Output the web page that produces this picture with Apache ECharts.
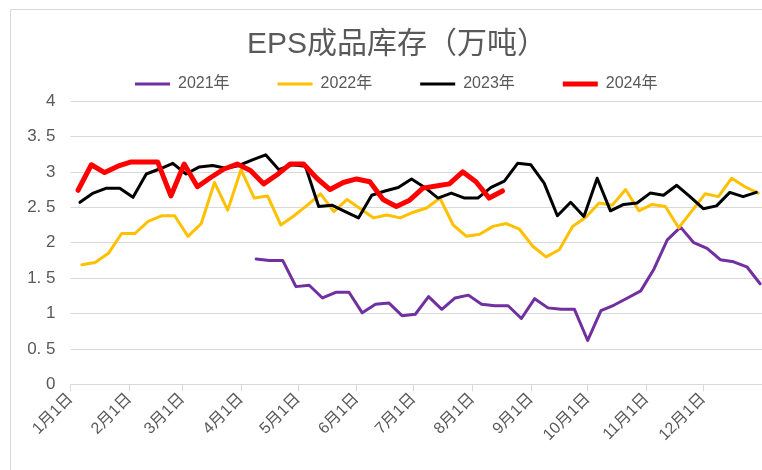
<!DOCTYPE html>
<html>
<head>
<meta charset="utf-8">
<script src="https://cdn.jsdelivr.net/npm/echarts@6/dist/echarts.min.js"></script>
<style>
  html, body { margin: 0; padding: 0; background: #ffffff; }
  #chart { width: 762px; height: 470px; }
</style>
</head>
<body>
<div id="chart"></div>
<script>
// Weekly EPS finished-goods inventory (10k tonnes), one line per year.
// Each year is placed on a shared Jan–Dec day axis; the first reading of
// a year falls on its first Friday and readings follow weekly after that.
const seriesNames = ['2021年', '2022年', '2023年', '2024年'];
const firstDay2021 = 98;  // 4月9日
const firstDay2022 = 6;   // 1月7日
const firstDay2023 = 5;   // 1月6日
const firstDay2024 = 4;   // 1月5日
const daysPerStep = 7;

const values2021 = [1.77, 1.75, 1.75, 1.38, 1.40, 1.22, 1.30, 1.30, 1.01, 1.13,
  1.15, 0.97, 0.99, 1.24, 1.06, 1.22, 1.26, 1.13, 1.11, 1.11,
  0.93, 1.21, 1.08, 1.06, 1.06, 0.62, 1.04, 1.12, 1.22, 1.32,
  1.63, 2.04, 2.22, 2.00, 1.92, 1.76, 1.73, 1.66, 1.42];
const values2022 = [1.69, 1.72, 1.85, 2.13, 2.13, 2.30, 2.38, 2.38, 2.09, 2.27,
  2.85, 2.46, 3.03, 2.63, 2.66, 2.25, 2.38, 2.53, 2.69, 2.44,
  2.61, 2.48, 2.35, 2.39, 2.35, 2.43, 2.49, 2.63, 2.25, 2.09,
  2.12, 2.23, 2.27, 2.19, 1.95, 1.80, 1.90, 2.23, 2.36, 2.56,
  2.53, 2.75, 2.45, 2.54, 2.51, 2.21, 2.45, 2.69, 2.65, 2.91,
  2.79, 2.70];
const values2023 = [2.57, 2.70, 2.77, 2.77, 2.64, 2.97, 3.04, 3.12, 2.97, 3.07,
  3.09, 3.05, 3.09, 3.17, 3.24, 3.03, 3.10, 3.08, 2.51, 2.53,
  2.44, 2.35, 2.67, 2.73, 2.78, 2.90, 2.78, 2.63, 2.70, 2.63,
  2.63, 2.78, 2.87, 3.12, 3.10, 2.84, 2.38, 2.57, 2.37, 2.91,
  2.45, 2.54, 2.56, 2.70, 2.67, 2.81, 2.65, 2.48, 2.52, 2.71,
  2.65, 2.71];
const values2024 = [2.74, 3.10, 2.99, 3.08, 3.14, 3.14, 3.14, 2.66, 3.11, 2.79,
  2.92, 3.04, 3.11, 3.02, 2.83, 2.96, 3.11, 3.11, 2.91, 2.75,
  2.85, 2.90, 2.86, 2.61, 2.51, 2.60, 2.77, 2.80, 2.83, 3.00,
  2.86, 2.63, 2.73];

// Month-start ticks on the day axis
const monthTickDays = [0, 31, 59, 90, 120, 151, 181, 212, 243, 273, 304, 334];
const monthTickLabels = ['1月1日', '2月1日', '3月1日', '4月1日', '5月1日', '6月1日',
  '7月1日', '8月1日', '9月1日', '10月1日', '11月1日', '12月1日'];
const yearEndDay = 365;

// Value-axis ticks
const yTickMin = 0;
const yTickMax = 4;
const yTickStep = 0.5;

function toPoints(firstDay, values) {
  return values.map((v, i) => [firstDay + i * daysPerStep, v]);
}

const FONT = "'Liberation Sans', 'Noto Sans CJK SC', sans-serif";
const TEXT_GREY = '#595959';
const LINE_GREY = '#d9d9d9';

// Legend swatches: a horizontal stroke centred in a 35x14 box
// (hair-thin corner specks keep the box size so the stroke is not stretched).
const THIN_SWATCH = 'path://M0,0L0.01,0L0,0.01Z M0,5.5H35V8.5H0Z M35,14L34.99,14L35,13.99Z';
const THICK_SWATCH = 'path://M0,0L0.01,0L0,0.01Z M0,4.5H35V9.5H0Z M35,14L34.99,14L35,13.99Z';

const chart = echarts.init(document.getElementById('chart'), null, { renderer: 'canvas' });

const lineDefs = [
  { name: seriesNames[0], color: '#7030A0', width: 3, icon: THIN_SWATCH, data: toPoints(firstDay2021, values2021) },
  { name: seriesNames[1], color: '#FFC000', width: 3, icon: THIN_SWATCH, data: toPoints(firstDay2022, values2022) },
  { name: seriesNames[2], color: '#000000', width: 3, icon: THIN_SWATCH, data: toPoints(firstDay2023, values2023) },
  { name: seriesNames[3], color: '#FF0000', width: 5, icon: THICK_SWATCH, data: toPoints(firstDay2024, values2024) }
];

chart.setOption({
  animation: false,
  backgroundColor: '#ffffff',
  textStyle: { fontFamily: FONT },
  graphic: [{
    type: 'rect',
    shape: { x: 10.5, y: 9.5, width: 800, height: 500 },
    style: { fill: 'none', stroke: LINE_GREY, lineWidth: 1 },
    silent: true
  }],
  title: {
    text: 'EPS成品库存（万吨）',
    left: 242,
    top: 25,
    textStyle: { fontFamily: FONT, fontSize: 30, fontWeight: 'normal', color: TEXT_GREY }
  },
  legend: {
    data: lineDefs.map(d => ({ name: d.name, icon: d.icon })),
    top: 71,
    left: 130,
    itemWidth: 35,
    itemHeight: 14,
    itemGap: 48,
    textStyle: { fontFamily: FONT, fontSize: 16, color: TEXT_GREY, padding: [0, 0, 0, 3] }
  },
  grid: { left: 70.5, right: 0, top: 101, bottom: 85.6, containLabel: false },
  xAxis: {
    type: 'value',
    min: 0,
    max: yearEndDay,
    axisLine: { show: true, lineStyle: { color: LINE_GREY, width: 1 } },
    axisTick: { show: true, length: 7, lineStyle: { color: LINE_GREY }, customValues: monthTickDays.concat([yearEndDay]) },
    splitLine: { show: false },
    axisLabel: {
      customValues: monthTickDays,
      rotate: 45,
      margin: 12,
      fontFamily: FONT,
      fontSize: 16,
      color: TEXT_GREY,
      formatter: (v) => {
        const k = monthTickDays.indexOf(v);
        return k >= 0 ? monthTickLabels[k] : '';
      }
    }
  },
  yAxis: {
    type: 'value',
    min: yTickMin,
    max: yTickMax,
    interval: yTickStep,
    axisLine: { show: false },
    axisTick: { show: false },
    splitLine: { lineStyle: { color: LINE_GREY, width: 1 } },
    axisLabel: {
      margin: 15,
      fontFamily: FONT,
      fontSize: 17,
      color: TEXT_GREY,
      formatter: (v) => String(v).replace('.', '. ')
    }
  },
  series: lineDefs.map(d => ({
    name: d.name,
    type: 'line',
    data: d.data,
    showSymbol: false,
    symbol: 'none',
    color: d.color,
    lineStyle: { color: d.color, width: d.width, cap: 'round', join: 'round' },
    emphasis: { disabled: true }
  }))
});
</script>
</body>
</html>
